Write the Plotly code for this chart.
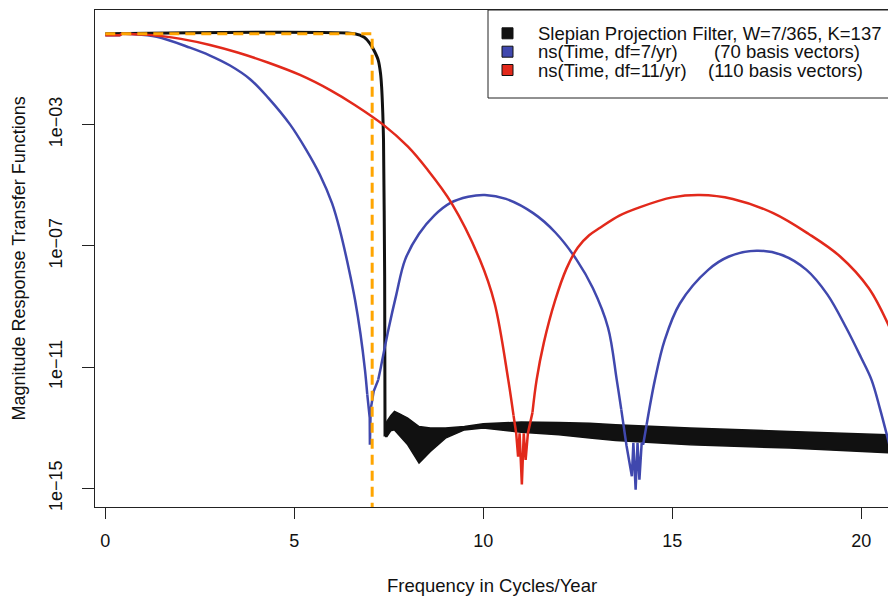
import plotly.graph_objects as go

# ---------------- data ----------------
# frequency in cycles/year, magnitude as log10 exponent
slepian_f = [0.0, 6.6, 6.85, 7.0, 7.12, 7.22, 7.28, 7.31, 7.34, 7.36, 7.39, 7.40]
slepian_log10 = [0.0, 0.0, -0.12, -0.32, -0.58, -0.87, -1.3, -1.75, -2.6, -3.5, -8.0, -13.29]

floor_f = [7.40, 7.45, 7.55, 7.65, 7.8, 8.0, 8.3, 8.6, 9.0, 9.5, 10.0, 10.5, 11.0,
           12.0, 12.82, 13.5, 15.47, 18.1, 20.75]
floor_upper_log10 = [-12.95, -12.79, -12.6, -12.46, -12.55, -12.68, -12.96, -13.01, -13.01,
                     -12.96, -12.87, -12.83, -12.81, -12.83, -12.85, -12.9, -13.01, -13.12, -13.23]
floor_lower_log10 = [-13.29, -13.29, -13.1, -13.07, -13.3, -13.56, -14.16, -13.78, -13.34,
                     -13.07, -13.01, -13.09, -13.15, -13.23, -13.34, -13.42, -13.56, -13.67, -13.83]

ns7_f = [0.0, 0.38, 0.45, 0.7, 1.36, 2.24, 2.77, 3.3, 3.83, 4.3, 4.89, 5.3, 5.68, 6.0,
         6.21, 6.45, 6.61, 6.75, 6.87, 6.93, 6.98, 6.995, 7.0, 7.005, 7.02, 7.1, 7.22,
         7.29, 7.5, 7.7, 7.93, 8.3, 8.7, 9.12, 9.6, 10.04, 10.6, 11.32, 11.9, 12.47,
         12.9, 13.3, 13.53, 13.65, 13.79, 13.93, 13.97, 14.03, 14.08, 14.13, 14.19,
         14.23, 14.32, 14.54, 14.8, 15.2, 15.95, 16.5, 17.23, 17.9, 18.55, 19.1, 19.6,
         20.0, 20.27, 20.5, 20.75]
ns7_log10 = [-0.05, -0.05, 0.0, -0.01, -0.10, -0.46, -0.72, -1.05, -1.5, -2.1, -3.0, -3.8,
             -4.66, -5.6, -6.5, -7.8, -8.8, -9.9, -11.1, -11.9, -12.6, -12.67, -13.56, -12.67,
             -12.4, -11.8, -11.42, -11.0, -9.7, -8.6, -7.46, -6.6, -6.0, -5.59, -5.38, -5.32,
             -5.45, -5.92, -6.55, -7.46, -8.4, -9.7, -11.42, -12.4, -13.6, -14.6, -13.5,
             -15.04, -13.5, -14.71, -13.5, -13.55, -12.9, -11.42, -10.1, -8.9, -7.79, -7.35,
             -7.16, -7.3, -7.79, -8.6, -9.7, -10.7, -11.42, -12.4, -13.6]

ns11_f = [0.0, 0.38, 0.45, 1.0, 1.5, 2.0, 2.77, 3.5, 4.3, 5.15, 5.95, 6.6, 7.35, 8.0,
          8.5, 9.16, 9.91, 10.3, 10.66, 10.8, 10.87, 10.92, 10.96, 11.02, 11.07, 11.12,
          11.18, 11.3, 11.41, 11.6, 11.9, 12.2, 12.5, 12.8, 13.09, 13.6, 14.15, 15.0,
          15.73, 16.6, 17.67, 18.6, 19.44, 20.2, 20.75]
ns11_log10 = [-0.05, -0.05, 0.0, -0.03, -0.08, -0.17, -0.37, -0.62, -0.95, -1.36, -1.86,
              -2.35, -3.0, -3.72, -4.45, -5.59, -7.46, -8.9, -11.42, -12.6, -13.18, -13.95,
              -13.18, -14.87, -13.18, -14.06, -13.18, -12.5, -11.42, -10.2, -8.8, -7.75,
              -7.05, -6.65, -6.4, -6.0, -5.72, -5.4, -5.32, -5.45, -5.92, -6.6, -7.35,
              -8.4, -9.7]

target_f = [0.0, 7.06, 7.06]
target_val = [1.0, 1.0, 1e-17]

y_tick_vals = [1e-3, 1e-7, 1e-11, 1e-15]
y_tick_text = ["1e\u221203", "1e\u221207", "1e\u221211", "1e\u221215"]
x_tick_vals = [0, 5, 10, 15, 20]

legend_labels = ["Slepian Projection Filter, W=7/365, K=137",
                 "ns(Time, df=7/yr)", "ns(Time, df=11/yr)"]
legend_extra = ["", "(70 basis vectors)", "(110 basis vectors)"]

# ---------------- styles ----------------
BLACK = "#111111"
BLUE = "#4048AE"
RED = "#E2291B"
ORANGE = "#FFA500"
FONT = "Liberation Sans, Arial, Helvetica, sans-serif"

# piecewise rendering: (start index, end index, shape) – smooth lobes, sharp nulls
ns7_pieces = [(0, 2, "linear"), (2, 19, "spline"), (19, 26, "linear"),
              (26, 43, "spline"), (43, 52, "linear"), (52, 66, "spline")]
ns11_pieces = [(0, 2, "linear"), (2, 19, "spline"), (19, 27, "linear"), (27, 44, "spline")]


def tv(ls):
    return [10 ** v for v in ls]


fig = go.Figure()

# noise floor band of the Slepian filter
fig.add_trace(go.Scatter(
    x=floor_f + floor_f[::-1],
    y=tv(floor_upper_log10) + tv(floor_lower_log10)[::-1],
    mode="lines", fill="toself", fillcolor=BLACK,
    line=dict(color=BLACK, width=1.5), hoverinfo="skip", showlegend=False))
fig.add_trace(go.Scatter(x=slepian_f, y=tv(slepian_log10), mode="lines",
                         line=dict(color=BLACK, width=3, shape="spline", smoothing=0.6),
                         showlegend=False))

for fs, vs, pieces, col in [(ns7_f, ns7_log10, ns7_pieces, BLUE),
                            (ns11_f, ns11_log10, ns11_pieces, RED)]:
    for a, b, shp in pieces:
        fig.add_trace(go.Scatter(x=fs[a:b + 1], y=tv(vs[a:b + 1]), mode="lines",
                                 line=dict(color=col, width=2.5, shape=shp),
                                 showlegend=False))

fig.add_trace(go.Scatter(x=target_f, y=target_val, mode="lines",
                         line=dict(color=ORANGE, width=3, dash="10px,6px"), showlegend=False))

W, H = 888, 596
L_M, R_M, T_M, B_M = 95, 0, 10, 89
PW = W - L_M - R_M
PH = H - T_M - B_M


def px(x):
    return (x - L_M) / PW


def py(y):
    return (H - B_M - y) / PH


fig.update_layout(
    width=W, height=H,
    margin=dict(l=L_M, r=R_M, t=T_M, b=B_M, pad=0),
    paper_bgcolor="white", plot_bgcolor="white",
    font=dict(family=FONT, size=18, color="#111111"),
    showlegend=False,
    xaxis=dict(range=[-0.2725, 20.706], tickvals=x_tick_vals, ticks="outside",
               ticklen=11, tickwidth=1, tickcolor="#222", showline=True, linecolor="#222",
               linewidth=1, mirror=True, showgrid=False, zeroline=False,
               ticklabelstandoff=6, tickfont=dict(size=18)),
    yaxis=dict(type="log", range=[-15.614, 0.782], tickvals=y_tick_vals,
               ticktext=y_tick_text, tickangle=-90, ticks="outside", ticklen=12,
               tickwidth=1, tickcolor="#222", showline=True, linecolor="#222",
               linewidth=1, mirror=False, showgrid=False, zeroline=False,
               ticklabelstandoff=13, tickfont=dict(size=18)),
)

shapes = []
annotations = []
# legend box
shapes.append(dict(type="rect", xref="paper", yref="paper", x0=px(488), x1=px(900),
                   y0=py(98), y1=py(10), line=dict(color="#222", width=1),
                   fillcolor="white", layer="above"))
rows_y = [33.3, 51.7, 70.0]
colors = [BLACK, BLUE, RED]
extra_x = [0, 712, 706]
for i in range(3):
    yc = rows_y[i]
    shapes.append(dict(type="rect", xref="paper", yref="paper",
                       x0=px(502), x1=px(513), y0=py(yc + 5.5), y1=py(yc - 5.5),
                       line=dict(color="#111", width=1), fillcolor=colors[i], layer="above"))
    annotations.append(dict(xref="paper", yref="paper", x=px(536), y=py(yc),
                            text=legend_labels[i], showarrow=False, xanchor="left",
                            yanchor="middle", font=dict(size=18.5, family=FONT)))
    if legend_extra[i]:
        annotations.append(dict(xref="paper", yref="paper", x=px(extra_x[i]), y=py(yc),
                                text=legend_extra[i], showarrow=False, xanchor="left",
                                yanchor="middle", font=dict(size=18.5, family=FONT)))

annotations.append(dict(xref="paper", yref="paper", x=px(492), y=py(585),
                        text="Frequency in Cycles/Year", showarrow=False,
                        xanchor="center", yanchor="middle", font=dict(size=18.5, family=FONT)))
annotations.append(dict(xref="paper", yref="paper", x=px(18), y=py(258.5),
                        text="Magnitude Response Transfer Functions", showarrow=False,
                        textangle=-90, xanchor="center", yanchor="middle",
                        font=dict(size=18, family=FONT)))

fig.update_layout(shapes=shapes, annotations=annotations)
fig.write_html("out.html")
